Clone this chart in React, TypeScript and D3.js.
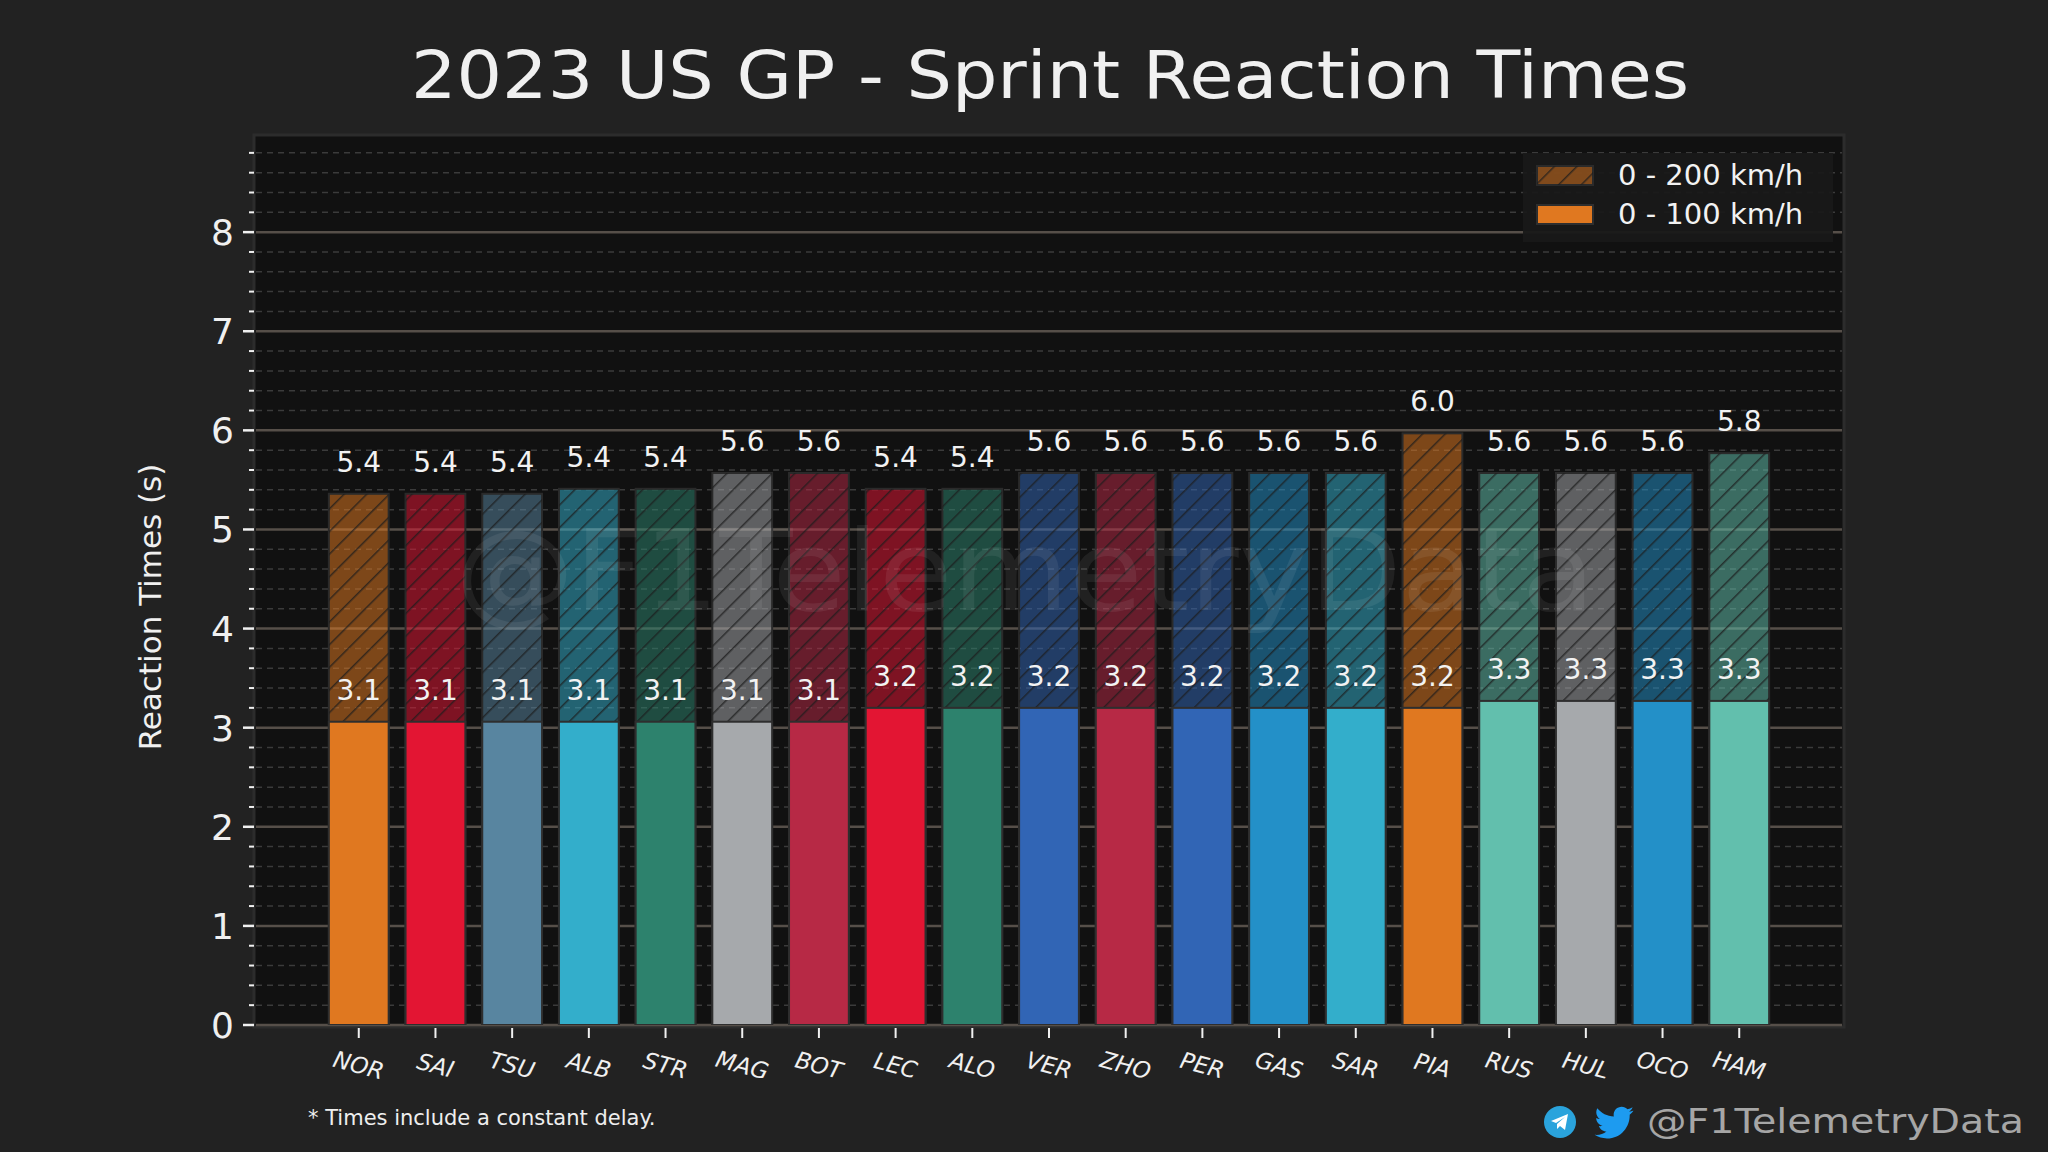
import * as d3 from "d3";

const drivers = ["NOR", "SAI", "TSU", "ALB", "STR", "MAG", "BOT", "LEC", "ALO", "VER", "ZHO", "PER", "GAS", "SAR", "PIA", "RUS", "HUL", "OCO", "HAM"];
const time100 = [3.06, 3.06, 3.06, 3.06, 3.06, 3.06, 3.06, 3.2, 3.2, 3.2, 3.2, 3.2, 3.2, 3.2, 3.2, 3.27, 3.27, 3.27, 3.27];
const time200 = [5.36, 5.36, 5.36, 5.41, 5.41, 5.57, 5.57, 5.41, 5.41, 5.57, 5.57, 5.57, 5.57, 5.57, 5.97, 5.57, 5.57, 5.57, 5.77];
const teamColors = ["#e07820", "#e31533", "#5885a0", "#33aecb", "#2d826d", "#a6a9ac", "#b72945", "#e31533", "#2d826d", "#3165b5", "#b72945", "#3165b5", "#2390c8", "#33aecb", "#e07820", "#62bfad", "#a6a9ac", "#2390c8", "#62bfad"];
const yTicks = [0, 1, 2, 3, 4, 5, 6, 7, 8];
const legendItems = ["0 - 200 km/h", "0 - 100 km/h"];

const W = 2048;
const H = 1152;
const plot = { left: 256, right: 1842, top: 137, bottom: 1025 };
const FONT = "'DejaVu Sans', sans-serif";

export default function App() {
  const x = d3.scaleLinear().domain([-1.34, drivers.length - 1 + 1.34]).range([plot.left, plot.right]);
  const y = d3.scaleLinear().domain([0, 8.96]).range([plot.bottom, plot.top]);
  const bw = x(0.78) - x(0);
  const minor = d3.range(0, 8.96, 0.2).filter((v) => Math.abs(v - Math.round(v)) > 0.01);

  return (
    <svg width={W} height={H} style={{ position: "absolute", left: 0, top: 0, display: "block" }} fontFamily={FONT}>
      <defs>
        <pattern id="hatch" patternUnits="userSpaceOnUse" width="16" height="16" patternTransform="rotate(45)">
          <line x1="0" y1="0" x2="0" y2="16" stroke="#1c1c1c" strokeOpacity="0.75" strokeWidth="3" />
        </pattern>
        <clipPath id="plotClip">
          <rect x={plot.left} y={plot.top} width={plot.right - plot.left} height={plot.bottom - plot.top} />
        </clipPath>
      </defs>
      <rect width={W} height={H} fill="#222222" />
      <rect x={plot.left - 2} y={plot.top - 2} width={plot.right - plot.left + 4} height={plot.bottom - plot.top + 4} fill="#111111" stroke="#2c2c2c" strokeWidth="3" />

      {/* title */}
      <text x={1050} y={98} textAnchor="middle" fill="#f0f0f0" fontSize="66" textLength="1278" lengthAdjust="spacingAndGlyphs">
        2023 US GP - Sprint Reaction Times
      </text>

      {/* grid */}
      {minor.map((v) => (
        <line key={"m" + v} x1={plot.left} x2={plot.right} y1={y(v)} y2={y(v)} stroke="#3b3b3b" strokeWidth="1.5" strokeDasharray="6,5" />
      ))}
      {yTicks.map((v) => (
        <line key={"g" + v} x1={plot.left} x2={plot.right} y1={y(v)} y2={y(v)} stroke="#564f49" strokeWidth="2.5" />
      ))}

      {/* bars */}
      <g clipPath="url(#plotClip)">
        {drivers.map((d, i) => (
          <g key={"h" + d}>
            <rect x={x(i) - bw / 2} y={y(time200[i])} width={bw} height={y(0) - y(time200[i])} fill={teamColors[i]} fillOpacity="0.52" stroke="#2a2a2a" strokeWidth="2" />
            <rect x={x(i) - bw / 2} y={y(time200[i])} width={bw} height={y(0) - y(time200[i])} fill="url(#hatch)" />
          </g>
        ))}
        {drivers.map((d, i) => (
          <rect key={"s" + d} x={x(i) - bw / 2} y={y(time100[i])} width={bw} height={y(0) - y(time100[i])} fill={teamColors[i]} stroke="#2e2e2e" strokeWidth="2" />
        ))}
      </g>

      {/* value labels */}
      {drivers.map((d, i) => (
        <g key={"l" + d} fill="#f2f2f2" fontSize="28" textAnchor="middle">
          <text x={x(i)} y={y(time200[i]) - 22}>{time200[i].toFixed(1)}</text>
          <text x={x(i)} y={y(time100[i]) - 22}>{time100[i].toFixed(1)}</text>
        </g>
      ))}

      {/* watermark */}
      <text x={1025} y={610} textAnchor="middle" fill="#ffffff" fillOpacity="0.07" fontSize="112" textLength="1140" lengthAdjust="spacingAndGlyphs">
        @F1TelemetryData
      </text>

      {/* legend */}
      <g>
        <rect x={1523} y={153} width={310} height={89} fill="#191919" fillOpacity="0.95" />
        <rect x={1537} y={166} width={56} height={19} fill={teamColors[0]} fillOpacity="0.52" stroke="#2a2a2a" strokeWidth="2" />
        <rect x={1537} y={166} width={56} height={19} fill="url(#hatch)" />
        <rect x={1537} y={205} width={56} height={19} fill={teamColors[0]} stroke="#2e2e2e" strokeWidth="2" />
        {legendItems.map((t, k) => (
          <text key={t} x={1618} y={185 + k * 39} fill="#f2f2f2" fontSize="29">{t}</text>
        ))}
      </g>

      {/* y axis */}
      {minor.map((v) => (
        <line key={"mt" + v} x1={plot.left - 7} x2={plot.left - 2} y1={y(v)} y2={y(v)} stroke="#f0f0f0" strokeWidth="2" />
      ))}
      {yTicks.map((v) => (
        <g key={"yt" + v}>
          <line x1={plot.left - 13} x2={plot.left - 2} y1={y(v)} y2={y(v)} stroke="#f0f0f0" strokeWidth="2.5" />
          <text x={plot.left - 22} y={y(v)} dy="0.36em" textAnchor="end" fill="#f0f0f0" fontSize="36">{v}</text>
        </g>
      ))}
      <text transform="translate(150,607) rotate(-90)" textAnchor="middle" dy="0.36em" fill="#f0f0f0" fontSize="31">
        Reaction Times (s)
      </text>

      {/* x axis */}
      {drivers.map((d, i) => (
        <g key={"xt" + d}>
          <line x1={x(i)} x2={x(i)} y1={plot.bottom + 3} y2={plot.bottom + 13} stroke="#f0f0f0" strokeWidth="2" />
          <text transform={`translate(${x(i)},1065) rotate(15)`} textAnchor="middle" dy="0.36em" fill="#f0f0f0" fontSize="23" fontStyle="italic">
            {d}
          </text>
        </g>
      ))}

      {/* footer */}
      <text x={308} y={1125} fill="#eeeeee" fontSize="21">* Times include a constant delay.</text>
      <g transform="translate(1560,1122)">
        <circle r="16" fill="#2aa3dc" />
        <path d="M-9,-1 L8,-8 L5,8 L0,4 L-3,7 L-3,2 L5,-5 L-4,1 Z" fill="#ffffff" />
      </g>
      <g transform="translate(1593,1102) scale(1.72)">
        <path
          fill="#1d9bf0"
          d="M23.643 4.937c-.835.37-1.732.62-2.675.733.962-.576 1.7-1.49 2.048-2.578-.9.534-1.897.922-2.958 1.13-.85-.904-2.06-1.47-3.4-1.47-2.572 0-4.658 2.086-4.658 4.66 0 .364.042.718.12 1.06-3.873-.195-7.304-2.05-9.602-4.868-.4.69-.63 1.49-.63 2.342 0 1.616.823 3.043 2.072 3.878-.764-.025-1.482-.234-2.11-.583v.06c0 2.257 1.605 4.14 3.737 4.568-.392.106-.803.162-1.227.162-.3 0-.593-.028-.877-.082.593 1.85 2.313 3.198 4.352 3.234-1.595 1.25-3.604 1.995-5.786 1.995-.376 0-.747-.022-1.112-.065 2.062 1.323 4.51 2.093 7.14 2.093 8.57 0 13.255-7.098 13.255-13.254 0-.2-.005-.402-.014-.602.91-.658 1.7-1.477 2.323-2.41z"
        />
      </g>
      <text x={1647} y={1133} fill="#a6a6a6" fontSize="34" textLength="377" lengthAdjust="spacingAndGlyphs">@F1TelemetryData</text>
    </svg>
  );
}
